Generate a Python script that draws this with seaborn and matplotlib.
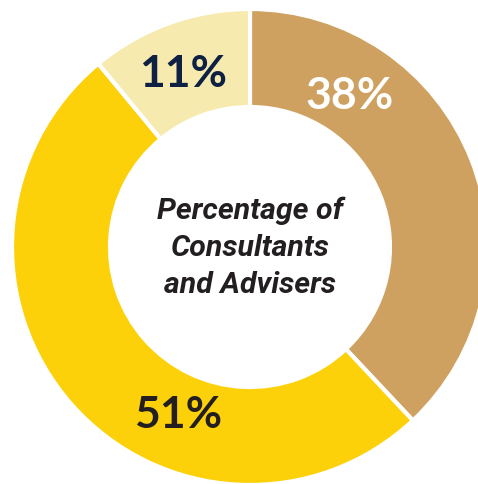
import matplotlib
matplotlib.use("Agg")
import matplotlib.pyplot as plt
import seaborn as sns

# Share of consultants and advisers, clockwise from 12 o'clock
groups = ["Group A", "Group B", "Group C"]
shares = [38, 51, 11]
labels = ["38%", "51%", "11%"]
colors = ["#CFA160", "#FCD10A", "#F6EAAE"]
label_colors = ["#FFFFFF", "#231F20", "#0F2142"]

sns.set_theme(style="white")
plt.rcParams["font.family"] = ["Lato", "DejaVu Sans"]

fig = plt.figure(figsize=(4.78, 4.85), dpi=100)
ax = fig.add_axes([0, 0, 1, 1])
ax.set_aspect("equal")
ax.axis("off")

outer_r = 238
ring_w = 98
wedges, _ = ax.pie(
    shares,
    colors=colors,
    startangle=90,
    counterclock=False,
    radius=outer_r,
    wedgeprops=dict(width=ring_w, edgecolor="white", linewidth=3.0),
)

# label anchor points inside the ring (pixel offsets from centre)
label_pos = [(100, 152), (-72, -167), (-67, 174)]
for (x, y), txt, c in zip(label_pos, labels, label_colors):
    ax.text(x, y, txt, color=c, fontsize=32, fontweight="bold",
            ha="center", va="center")

ax.text(0, 0, "Percentage of\nConsultants\nand Advisers",
        ha="center", va="center", fontsize=21.8, fontweight="bold",
        fontstyle="italic", color="#231F20", linespacing=1.4,
        family=["Roboto", "DejaVu Sans"])

ax.set_xlim(-250, 228)
ax.set_ylim(-237, 248)

fig.savefig("out.png", dpi=100, facecolor="white")
